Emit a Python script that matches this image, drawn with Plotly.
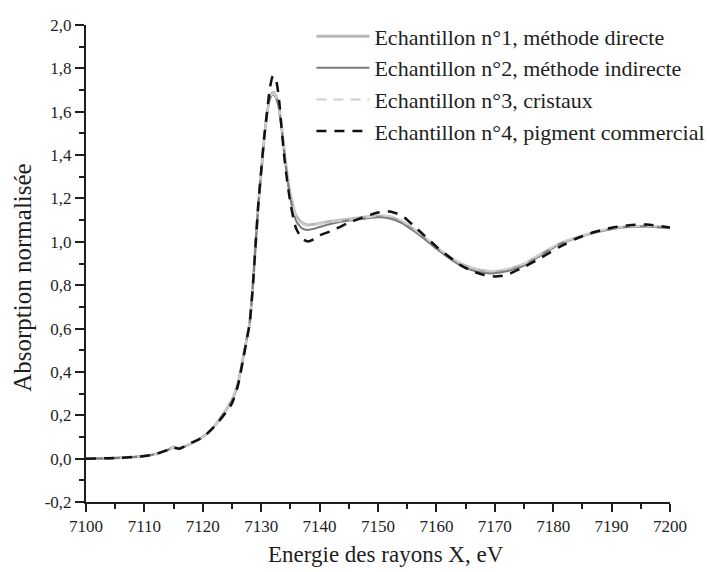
import plotly.graph_objects as go

energy = [7100, 7105, 7110, 7112, 7114, 7115, 7116, 7118, 7120, 7122, 7124, 7125, 7126,
          7127, 7127.5, 7128, 7128.5, 7129, 7129.5, 7130, 7130.5, 7131, 7131.5, 7132,
          7132.5, 7133, 7133.5, 7134, 7134.5, 7135, 7135.5, 7136, 7137, 7138, 7139,
          7140, 7142, 7145, 7148, 7150, 7152, 7154, 7156, 7158, 7160, 7162, 7164, 7166,
          7168, 7170, 7172, 7175, 7178, 7181, 7184, 7187, 7190, 7193, 7196, 7200]

s1 = [0.000, 0.003, 0.012, 0.022, 0.040, 0.054, 0.048, 0.070, 0.100, 0.150, 0.225, 0.270, 0.345,
      0.480, 0.550, 0.620, 0.770, 0.970, 1.170, 1.320, 1.470, 1.590, 1.665, 1.690,
      1.675, 1.630, 1.530, 1.410, 1.300, 1.220, 1.160, 1.120, 1.088, 1.078, 1.080,
      1.085, 1.095, 1.105, 1.115, 1.120, 1.115, 1.095, 1.060, 1.020, 0.975, 0.935, 0.902, 0.880,
      0.867, 0.864, 0.872, 0.897, 0.945, 0.990, 1.020, 1.043, 1.060, 1.070, 1.072, 1.065]

s2 = [0.000, 0.003, 0.012, 0.022, 0.040, 0.052, 0.046, 0.070, 0.100, 0.150, 0.225, 0.268, 0.345,
      0.480, 0.550, 0.620, 0.770, 0.970, 1.170, 1.320, 1.470, 1.590, 1.660, 1.680,
      1.665, 1.620, 1.520, 1.400, 1.285, 1.200, 1.135, 1.095, 1.062, 1.055, 1.060,
      1.068, 1.083, 1.098, 1.108, 1.113, 1.108, 1.088, 1.052, 1.012, 0.968, 0.928, 0.893, 0.870,
      0.857, 0.855, 0.864, 0.890, 0.940, 0.987, 1.018, 1.042, 1.059, 1.069, 1.071, 1.064]

s3 = [0.000, 0.003, 0.012, 0.022, 0.040, 0.053, 0.047, 0.070, 0.100, 0.150, 0.225, 0.270, 0.345,
      0.480, 0.550, 0.620, 0.770, 0.970, 1.170, 1.320, 1.470, 1.590, 1.660, 1.685,
      1.670, 1.625, 1.525, 1.405, 1.295, 1.215, 1.155, 1.115, 1.083, 1.074, 1.077,
      1.082, 1.092, 1.102, 1.112, 1.122, 1.118, 1.098, 1.062, 1.022, 0.978, 0.937, 0.903, 0.880,
      0.868, 0.866, 0.874, 0.898, 0.946, 0.991, 1.021, 1.044, 1.061, 1.071, 1.073, 1.066]

s4 = [0.000, 0.003, 0.012, 0.022, 0.040, 0.050, 0.046, 0.072, 0.098, 0.148, 0.215, 0.255, 0.335,
      0.470, 0.545, 0.620, 0.770, 0.970, 1.170, 1.330, 1.480, 1.600, 1.710, 1.765,
      1.750, 1.670, 1.520, 1.380, 1.270, 1.180, 1.110, 1.060, 1.015, 1.002, 1.012,
      1.030, 1.050, 1.088, 1.118, 1.135, 1.140, 1.122, 1.077, 1.027, 0.978, 0.935, 0.895, 0.866,
      0.848, 0.840, 0.847, 0.884, 0.928, 0.975, 1.015, 1.045, 1.065, 1.077, 1.080, 1.066]

names = ["Echantillon n°1, méthode directe",
         "Echantillon n°2, méthode indirecte",
         "Echantillon n°3, cristaux",
         "Echantillon n°4, pigment commercial"]

x_title = "Energie des rayons X, eV"
y_title = "Absorption normalisée"

x_tickvals = [7100, 7110, 7120, 7130, 7140, 7150, 7160, 7170, 7180, 7190, 7200]
y_tickvals = [-0.2, 0.0, 0.2, 0.4, 0.6, 0.8, 1.0, 1.2, 1.4, 1.6, 1.8, 2.0]
y_ticktext = ["-0,2", "0,0", "0,2", "0,4", "0,6", "0,8", "1,0", "1,2", "1,4", "1,6", "1,8", "2,0"]

styles = [
    dict(color="#b9b9b9", width=2.8, dash="solid"),
    dict(color="#7c7c7c", width=2, dash="solid"),
    dict(color="#cfcfcf", width=2, dash="10px,7px"),
    dict(color="#111111", width=2.5, dash="10px,8px"),
]

fig = go.Figure()
for name, ys, st in zip(names, [s1, s2, s3, s4], styles):
    fig.add_trace(go.Scatter(x=energy, y=ys, name=name, mode="lines",
                             line=dict(color=st["color"], width=st["width"], dash=st["dash"],
                                       shape="spline", smoothing=0.6)))

font_family = "Liberation Serif"
ink = "#1e1e1e"

fig.update_layout(
    width=710, height=572,
    margin=dict(l=86, r=40, t=25, b=70, autoexpand=False),
    paper_bgcolor="white", plot_bgcolor="white",
    font=dict(family=font_family, color=ink, size=16),
    showlegend=True,
    legend=dict(x=0.386, y=1.02, xanchor="left", yanchor="top",
                font=dict(size=22, family=font_family, color=ink),
                bgcolor="rgba(0,0,0,0)", itemwidth=53, tracegroupgap=0),
    xaxis=dict(range=[7100, 7200], tickvals=x_tickvals,
               showgrid=False, zeroline=False, showline=True, linecolor=ink, linewidth=2,
               ticks="outside", ticklen=8, tickwidth=2, tickcolor=ink,
               minor=dict(dtick=5, ticks="outside", ticklen=5, tickwidth=2, tickcolor=ink, showgrid=False),
               tickfont=dict(size=17, family=font_family, color=ink),
               automargin=False),
    yaxis=dict(range=[-0.2, 2.0], tickvals=y_tickvals, ticktext=y_ticktext,
               showgrid=False, zeroline=False, showline=True, linecolor=ink, linewidth=2,
               ticks="outside", ticklen=9, tickwidth=2, tickcolor=ink,
               minor=dict(dtick=0.1, tick0=0, ticks="outside", ticklen=5, tickwidth=2, tickcolor=ink, showgrid=False),
               tickfont=dict(size=17, family=font_family, color=ink),
               automargin=False),
    annotations=[
        dict(text=x_title, xref="paper", yref="paper", x=0.513, y=-0.111,
             xanchor="center", yanchor="middle", showarrow=False,
             font=dict(size=23, family=font_family, color=ink)),
        dict(text=y_title, xref="paper", yref="paper", x=-0.108, y=0.47,
             xanchor="center", yanchor="middle", showarrow=False, textangle=-90,
             font=dict(size=25, family=font_family, color=ink)),
    ],
)

fig.write_html("out.html")
